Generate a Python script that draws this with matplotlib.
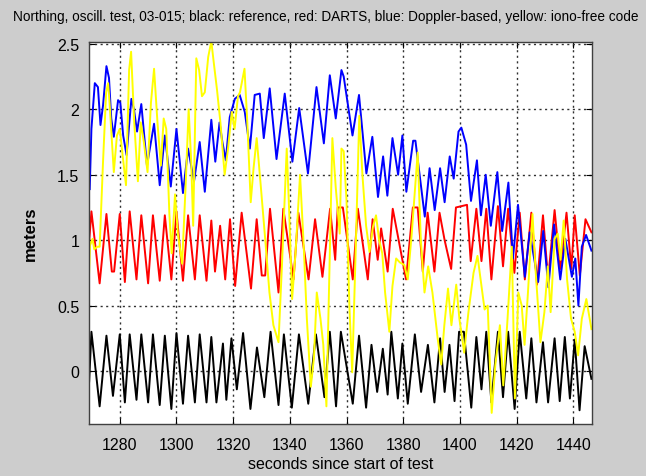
import matplotlib
matplotlib.use('Agg')
import matplotlib.pyplot as plt

# ---------------- data ----------------
t_black = [1269.2, 1270.0, 1272.9, 1275.3, 1277.6, 1280.0, 1281.8, 1283.5, 1285.9, 1287.6,
           1290.0, 1291.7, 1294.1, 1295.9, 1298.2, 1300.0, 1302.3, 1304.1, 1306.5, 1308.2,
           1310.6, 1312.3, 1314.1, 1316.4, 1317.6, 1319.4, 1321.3, 1323.5, 1326.1, 1328.4,
           1331.0, 1333.2, 1336.0, 1337.9, 1340.7, 1343.2, 1346.5, 1349.2, 1352.2, 1354.1,
           1356.3, 1358.0, 1362.2, 1364.4, 1366.9, 1368.8, 1370.8, 1372.8, 1374.5, 1375.8,
           1378.1, 1379.7, 1381.6, 1384.1, 1386.3, 1388.7, 1391.0, 1393.0, 1394.6, 1396.3,
           1398.1, 1399.7, 1401.4, 1404.0, 1405.8, 1407.6, 1409.3, 1411.1, 1413.4, 1415.2,
           1417.0, 1419.3, 1421.1, 1423.4, 1425.2, 1427.0, 1429.3, 1431.1, 1433.4, 1435.2,
           1437.0, 1438.8, 1440.5, 1442.2, 1444.0, 1446.4]
black = [-0.08, 0.30, -0.27, 0.27, -0.19, 0.28, -0.24, 0.28, -0.22, 0.28,
         -0.24, 0.28, -0.26, 0.27, -0.29, 0.29, -0.25, 0.27, -0.24, 0.28,
         -0.24, 0.26, -0.24, 0.21, -0.22, 0.25, -0.14, 0.29, -0.29, 0.18,
         -0.20, 0.30, -0.26, 0.28, -0.28, 0.28, -0.25, 0.28, -0.20, 0.30,
         -0.27, 0.30, -0.25, 0.27, -0.28, 0.20, -0.16, 0.17, -0.18, 0.30,
         -0.21, 0.21, -0.25, 0.28, -0.16, 0.20, -0.24, 0.25, -0.16, 0.20,
         -0.23, 0.30, 0.30, -0.28, 0.26, -0.14, 0.30, -0.24, 0.30, -0.20,
         0.30, -0.29, 0.30, -0.21, 0.25, -0.24, 0.22, -0.24, 0.25, -0.23,
         0.26, -0.21, 0.24, -0.30, 0.19, -0.06]

t_red = [1269.2, 1270.0, 1272.9, 1275.3, 1277.2, 1278.0, 1280.0, 1281.8, 1283.5, 1285.9,
         1287.6, 1290.0, 1291.7, 1294.1, 1295.9, 1298.2, 1300.0, 1302.3, 1304.1, 1306.5,
         1308.2, 1310.6, 1312.3, 1313.6, 1315.4, 1317.2, 1318.9, 1320.7, 1323.0, 1326.3,
         1328.3, 1330.1, 1331.3, 1333.0, 1336.0, 1337.7, 1341.3, 1343.0, 1346.6, 1348.9,
         1351.5, 1354.2, 1356.0, 1356.9, 1358.7, 1362.2, 1364.0, 1367.5, 1369.2, 1371.0,
         1372.2, 1374.5, 1376.3, 1381.0, 1383.4, 1385.1, 1386.9, 1388.6, 1391.0, 1392.8,
         1394.6, 1396.9, 1398.6, 1402.5, 1403.8, 1405.8, 1407.6, 1409.3, 1411.1, 1413.4,
         1415.2, 1417.0, 1419.2, 1421.1, 1422.9, 1425.2, 1427.2, 1429.3, 1431.1, 1433.4,
         1435.4, 1437.6, 1439.3, 1440.5, 1442.3, 1444.3, 1446.4]
red = [0.99, 1.22, 0.67, 1.20, 0.76, 0.76, 1.20, 0.68, 1.22, 0.70,
       1.19, 0.67, 1.19, 0.69, 1.19, 0.70, 1.22, 0.69, 1.19, 0.70,
       1.19, 0.69, 1.15, 0.76, 1.11, 0.70, 1.16, 0.65, 1.21, 0.63,
       1.16, 0.73, 0.73, 1.24, 0.60, 1.24, 0.70, 1.21, 0.70, 1.16,
       0.72, 1.24, 0.85, 1.25, 1.25, 0.70, 1.24, 0.70, 1.16, 0.85,
       1.09, 0.76, 1.24, 0.70, 1.25, 1.25, 0.76, 1.21, 0.76, 1.21,
       1.00, 0.78, 1.25, 1.27, 0.84, 1.24, 0.84, 1.24, 0.70, 1.26,
       0.80, 1.24, 0.75, 1.21, 0.70, 1.21, 0.66, 1.19, 0.70, 1.23,
       0.78, 1.21, 0.78, 1.19, 0.73, 1.16, 1.06]

t_blue = [1269.4, 1270.0, 1271.2, 1272.3, 1273.2, 1274.1, 1275.3, 1276.2, 1277.0, 1277.9,
          1279.4, 1280.2, 1281.2, 1282.4, 1284.1, 1285.0, 1286.1, 1287.6, 1289.6, 1292.1,
          1294.1, 1295.9, 1298.0, 1300.0, 1302.3, 1304.1, 1306.2, 1308.2, 1310.0, 1312.3,
          1313.7, 1315.2, 1316.2, 1317.4, 1318.8, 1320.6, 1322.3, 1324.1, 1325.9, 1327.6,
          1329.4, 1330.8, 1332.9, 1335.3, 1338.2, 1340.9, 1343.3, 1346.4, 1349.4, 1352.0,
          1354.1, 1356.2, 1358.2, 1359.0, 1362.1, 1364.4, 1367.0, 1369.1, 1371.1, 1372.9,
          1374.4, 1376.2, 1378.2, 1379.7, 1381.1, 1383.5, 1384.3, 1387.6, 1389.3, 1391.1,
          1393.0, 1394.6, 1396.4, 1397.8, 1399.5, 1400.5, 1402.2, 1403.9, 1406.0, 1407.4,
          1409.1, 1410.9, 1413.2, 1414.9, 1417.1, 1418.7, 1420.5, 1422.9, 1424.6, 1427.6,
          1429.4, 1431.2, 1433.2, 1435.4, 1437.2, 1439.5, 1440.7, 1441.8, 1443.0, 1444.5,
          1446.4]
blue = [1.39, 1.85, 2.20, 2.17, 1.88, 2.03, 2.33, 2.24, 1.93, 1.79,
        2.07, 2.05, 1.80, 1.65, 2.08, 2.00, 1.83, 2.04, 1.57, 1.89,
        1.42, 1.80, 1.41, 1.85, 1.36, 1.70, 1.45, 1.75, 1.37, 1.92,
        1.60, 1.90, 1.75, 1.61, 1.94, 2.08, 2.11, 1.98, 1.70, 2.11,
        2.12, 1.78, 2.16, 1.62, 2.12, 1.60, 2.01, 1.51, 2.17, 1.74,
        2.26, 1.93, 2.30, 2.25, 1.80, 2.11, 1.51, 1.79, 1.33, 1.64,
        1.34, 1.78, 1.50, 1.80, 1.37, 1.76, 1.76, 1.18, 1.55, 1.23,
        1.55, 1.29, 1.64, 1.47, 1.83, 1.86, 1.73, 1.30, 1.61, 1.19,
        1.50, 1.11, 1.52, 1.07, 1.44, 0.86, 1.27, 0.72, 1.06, 0.68,
        1.07, 0.64, 1.12, 0.70, 1.01, 0.72, 0.86, 0.50, 0.95, 1.04,
        0.92]

t_yellow = [1268.8, 1269.5, 1270.4, 1271.0, 1272.1, 1272.9, 1274.1, 1275.2, 1275.9, 1276.4,
            1277.9, 1279.0, 1280.0, 1281.0, 1282.2, 1283.3, 1284.0, 1285.1, 1286.4, 1287.4,
            1288.5, 1289.8, 1291.0, 1292.1, 1293.3, 1294.5, 1295.5, 1296.4, 1297.5, 1298.3,
            1299.5, 1300.5, 1302.0, 1303.2, 1304.3, 1305.2, 1305.9, 1307.0, 1308.0, 1309.0,
            1310.0, 1311.2, 1312.3, 1313.2, 1314.3, 1315.5, 1317.0, 1318.2, 1319.5, 1320.5,
            1321.7, 1322.4, 1324.0, 1325.0, 1326.2, 1327.2, 1328.3, 1329.8, 1331.3, 1332.8,
            1334.2, 1336.0, 1337.2, 1338.9, 1339.8, 1340.8, 1342.0, 1343.6, 1344.8, 1346.0,
            1347.4, 1348.5, 1349.5, 1350.8, 1351.8, 1352.9, 1353.8, 1355.0, 1356.2, 1357.6,
            1358.2, 1359.0, 1360.0, 1361.0, 1362.0, 1363.2, 1364.5, 1365.6, 1366.9, 1368.1,
            1369.3, 1370.4, 1371.5, 1372.6, 1373.6, 1375.1, 1376.2, 1377.5, 1378.8, 1380.4,
            1381.6, 1383.0, 1385.1, 1386.2, 1387.5, 1388.8, 1390.3, 1392.2, 1393.4, 1394.5,
            1395.8, 1397.0, 1398.7, 1399.8, 1401.5, 1403.0, 1404.8, 1406.2, 1407.3, 1408.7,
            1409.8, 1411.2, 1412.5, 1414.1, 1415.3, 1416.8, 1418.3, 1419.4, 1420.6, 1421.8,
            1422.8, 1424.0, 1425.6, 1426.6, 1428.4, 1429.8, 1431.0, 1432.0, 1433.4, 1434.5,
            1435.5, 1436.6, 1437.8, 1439.2, 1440.5, 1441.7, 1443.0, 1444.6, 1446.4]
yellow = [0.50, 0.96, 1.01, 0.93, 0.95, 0.95, 1.60, 2.13, 2.20, 2.05,
          1.52, 1.80, 1.85, 1.65, 1.42, 2.30, 2.44, 1.90, 1.45, 1.90,
          1.75, 1.52, 2.05, 2.31, 1.90, 1.57, 1.93, 1.85, 1.20, 0.90,
          1.35, 1.05, 0.82, 1.40, 2.00, 1.60, 1.11, 2.39, 2.30, 2.10,
          2.13, 2.40, 2.52, 2.35, 2.15, 1.90, 1.50, 1.70, 1.98, 1.85,
          2.10, 2.13, 2.31, 1.90, 1.29, 1.55, 1.78, 1.40, 1.01, 0.60,
          0.35, 0.22, 0.80, 1.70, 1.20, 0.55, 0.90, 1.50, 1.00, 0.40,
          -0.12, 0.10, 0.60, 0.40, 0.20, -0.27, 0.60, 1.78, 1.40, 1.05,
          1.70, 1.68, 1.30, 0.50, -0.01, 0.90, 1.95, 1.50, 1.11, 0.91,
          1.10, 1.19, 1.00, 0.90, 0.60, 0.30, 0.65, 0.86, 0.83, 0.81,
          0.70, 1.05, 1.67, 1.00, 0.60, 0.80, 0.60, 0.24, 0.05, 0.35,
          0.63, 0.35, 0.66, 0.40, 0.14, 0.45, 0.75, 0.88, 0.70, 0.47,
          0.50, -0.32, 0.05, 0.35, -0.11, 0.40, 0.95, -0.21, 0.60, 0.50,
          0.20, 0.60, 1.20, 0.80, 0.22, 0.45, 0.80, 0.45, 1.01, 1.05,
          0.85, 1.15, 0.70, 0.40, 0.30, 0.12, 0.40, 0.55, 0.32]

x_ticks = [1280, 1300, 1320, 1340, 1360, 1380, 1400, 1420, 1440]
y_ticks = [0, 0.5, 1, 1.5, 2, 2.5]
y_ticklabels = ['0', '0.5', '1', '1.5', '2', '2.5']
title = 'Northing, oscill. test, 03-015; black: reference, red: DARTS, blue: Doppler-based, yellow: iono-free code'

# ---------------- styling ----------------
plt.rcParams['font.family'] = ['Liberation Sans', 'DejaVu Sans']

fig = plt.figure(figsize=(6.46, 4.77), dpi=100, facecolor='#cdcdcd')
ax = fig.add_axes([0.138, 0.109, 0.778, 0.801])
ax.set_facecolor('white')

lw = 1.4
ax.plot(t_black, black, color='black', lw=lw)
ax.plot(t_red, red, color='#ff0000', lw=lw)
ax.plot(t_blue, blue, color='#0000ff', lw=lw)
ax.plot(t_yellow, yellow, color='#ffff00', lw=lw)

ax.set_xlim(1269.2, 1446.5)
ax.set_ylim(-0.405, 2.515)
ax.set_xticks(x_ticks)
ax.set_yticks(y_ticks)
ax.set_yticklabels(y_ticklabels)
ax.grid(True, linestyle=(0, (1.5, 2.5)), color='#303030', linewidth=1.0)
ax.tick_params(direction='in', length=4, labelsize=11.5, top=True, right=True)
ax.tick_params(axis='x', pad=9)
ax.tick_params(axis='y', pad=7)
for s in ax.spines.values():
    s.set_color('#404040')
    s.set_linewidth(1.0)

fig.text(326 / 646, 1 - 17 / 477, title, fontsize=9.8, ha='center', va='center')
ax.set_xlabel('seconds since start of test', fontsize=11.5, labelpad=3)
ax.set_ylabel('meters', fontsize=12, fontweight='bold', labelpad=14)

fig.savefig('out.png', dpi=100, facecolor=fig.get_facecolor())
